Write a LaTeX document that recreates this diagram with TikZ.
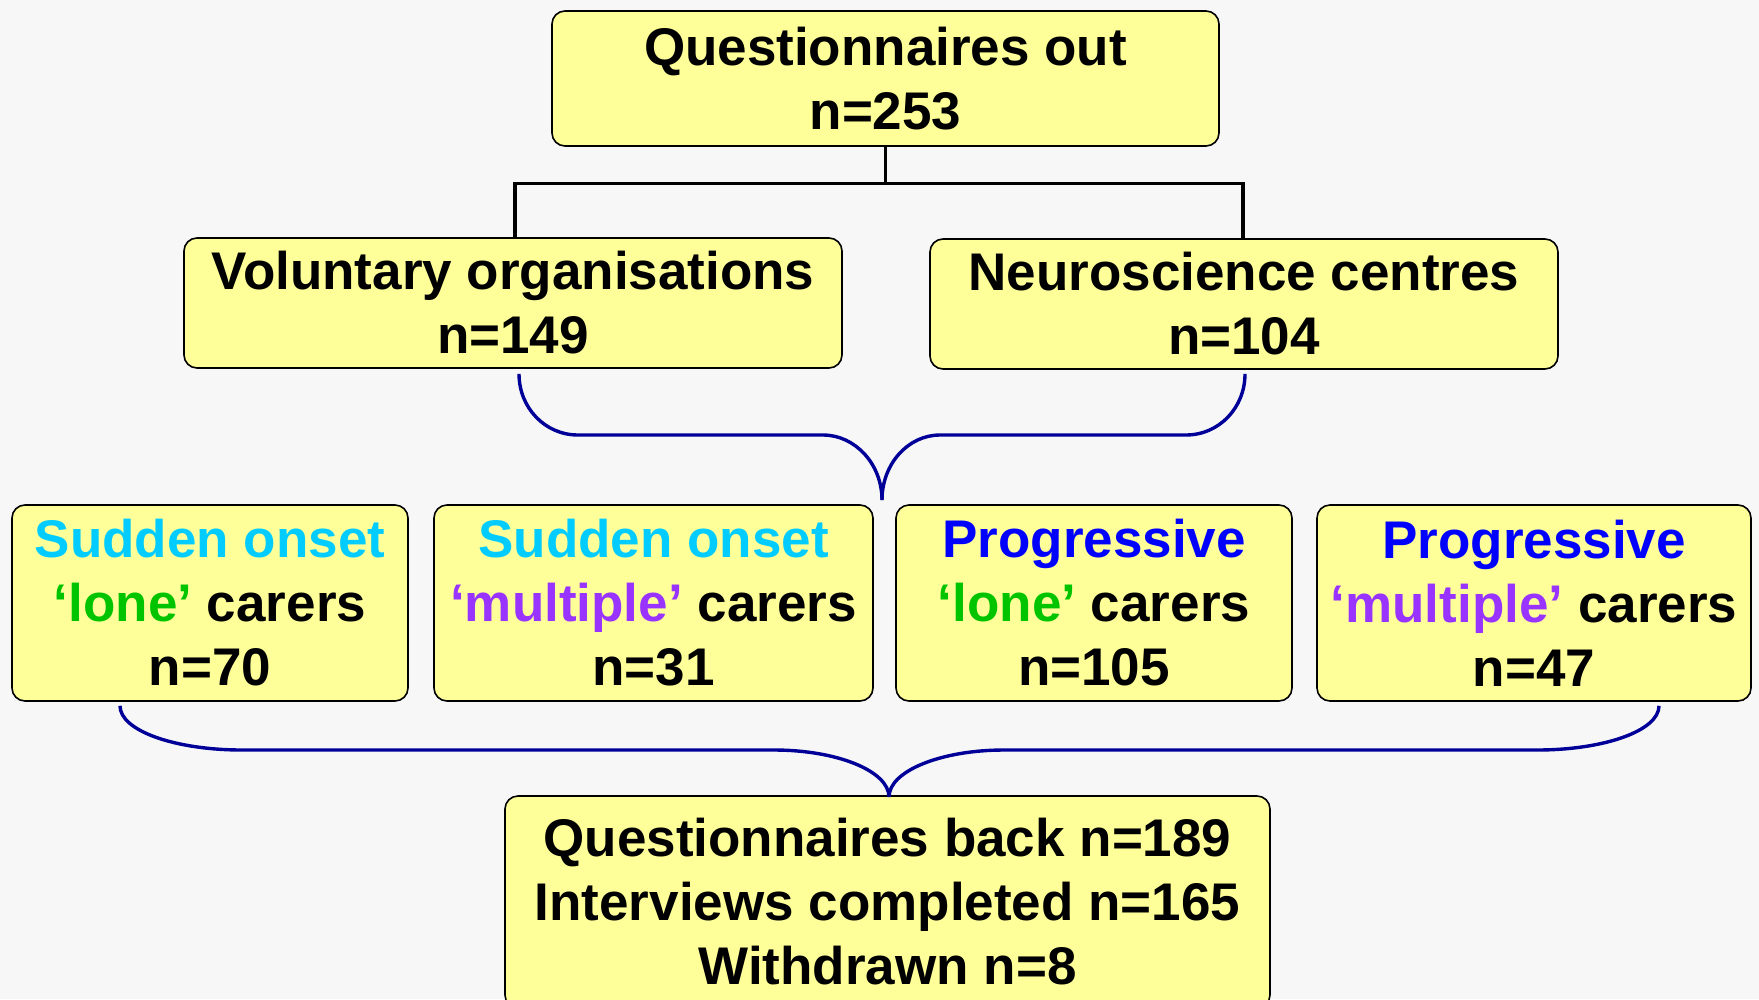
\documentclass[tikz,border=0pt]{standalone}
\usepackage{fontspec}
\setmainfont{Liberation Sans}
\usetikzlibrary{calc}
\definecolor{bgcol}{HTML}{F7F7F7}
\definecolor{boxfill}{HTML}{FFFF99}
\definecolor{bracecol}{HTML}{000099}
\definecolor{cyanT}{HTML}{00CCFF}
\definecolor{greenT}{HTML}{00C400}
\definecolor{purpleT}{HTML}{9933FF}
\definecolor{blueT}{HTML}{0000FF}
\begin{document}
\begin{tikzpicture}[x=1pt,y=-1pt,
  box/.style={draw=black, line width=1.6pt, fill=boxfill, rounded corners=13pt,
    align=center, inner sep=0pt, font=\fontsize{53}{64}\selectfont\bfseries},
  tree/.style={line width=3.2pt, draw=black},
  brace/.style={line width=3.4pt, draw=bracecol}]
\fill[bgcol] (0,0) rectangle (1759,999);
\useasboundingbox (0,0) rectangle (1759,999);

\node[box, minimum width=667pt, minimum height=135pt] (top) at (885.5,78.5) {Questionnaires out\\n=253};
\node[box, minimum width=658pt, minimum height=130pt] (vol) at (513,303) {Voluntary organisations\\n=149};
\node[box, minimum width=628pt, minimum height=130pt] (neu) at (1244,304) {Neuroscience centres\\n=104};

\node[box, minimum width=396pt, minimum height=196pt] (s1) at (210,603) {\textcolor{cyanT}{Sudden onset}\\\textcolor{greenT}{‘lone’} carers\\n=70};
\node[box, minimum width=439pt, minimum height=196pt] (s2) at (653.5,603) {\textcolor{cyanT}{Sudden onset}\\\textcolor{purpleT}{‘multiple’} carers\\n=31};
\node[box, minimum width=396pt, minimum height=196pt] (p1) at (1094,603) {\textcolor{blueT}{Progressive}\\\textcolor{greenT}{‘lone’} carers\\n=105};
\node[box, minimum width=434pt, minimum height=196pt] (p2) at (1534,603) {\textcolor{blueT}{Progressive}\\\textcolor{purpleT}{‘multiple’} carers\\n=47};

\node[box, minimum width=765pt, minimum height=212pt] (bot) at (887.5,902) {Questionnaires back n=189\\Interviews completed n=165\\Withdrawn n=8};

% tree connector
\coordinate (j) at ($(top.south)+(0,37)$);
\draw[tree] (top.south) -- (j);
\draw[tree] ($(vol.north)+(2,0)$) |- (j) -| ($(neu.north)+(-1,0)$);

% upper brace
\coordinate (tipA) at (882,500);
\draw[brace] ($(vol.south)+(6,5)$) .. controls +(0,34) and +(-33,0) .. (578,435) -- (823,435) .. controls +(32,0) and +(0,-36) .. (tipA);
\draw[brace] ($(neu.south)+(1,4)$) .. controls +(0,34) and +(33,0) .. (1186,435) -- (940,435) .. controls +(-32,0) and +(0,-36) .. (tipA);

% lower brace
\coordinate (tipB) at (889,797);
\draw[brace] ($(s1.south)+(-90,4)$) .. controls +(0,25) and +(-67,0) .. (242,750) -- (774,750) .. controls +(63,0) and +(0,-26) .. (tipB);
\draw[brace] ($(p2.south)+(125,4)$) .. controls +(0,25) and +(67,0) .. (1537,750) -- (1004,750) .. controls +(-63,0) and +(0,-26) .. (tipB);
\end{tikzpicture}
\end{document}
